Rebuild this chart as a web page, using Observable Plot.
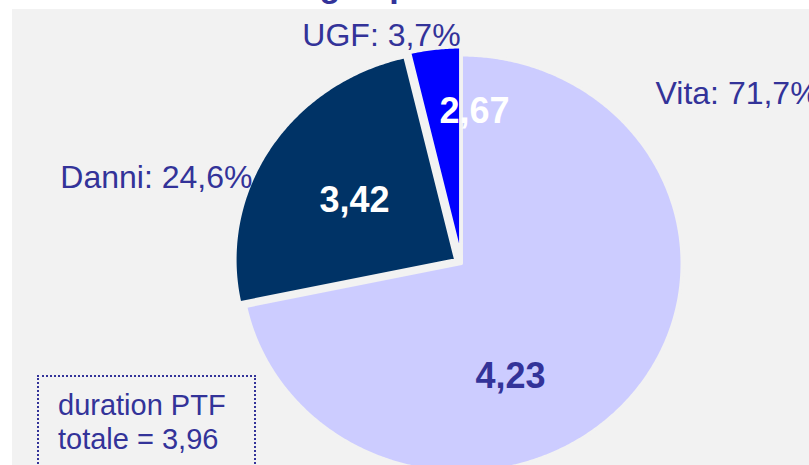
<!DOCTYPE html>
<html><head><meta charset="utf-8">
<script src="https://cdn.jsdelivr.net/npm/d3@7"></script>
<script src="https://cdn.jsdelivr.net/npm/@observablehq/plot@0.6"></script>
<style>
html,body{margin:0;padding:0;overflow:hidden;background:#fff;width:809px;height:465px;}
#wrap{position:relative;width:809px;height:465px;overflow:hidden;}
#title{position:absolute;left:-30px;top:-32px;font:bold 34px "Liberation Sans",Arial,sans-serif;line-height:34px;color:#333399;white-space:nowrap;}
#chart{position:absolute;left:12px;top:9px;}
#note{position:absolute;left:37px;top:375px;width:219px;height:120px;border:2px dotted #333399;box-sizing:border-box;padding:11px 0 0 19px;font:29px "Liberation Sans",Arial,sans-serif;line-height:34px;color:#333399;white-space:nowrap;}
</style></head>
<body>
<div id="wrap">
  <div id="title">Duration media: dettaglio per ramo</div>
  <div id="chart"></div>
  <div id="note"></div>
</div>
<script>
// ---- data ----
const segments = ["Vita", "Danni", "UGF"];
const shares = [71.7, 24.6, 3.7];          // % of portfolio
const durations = [4.23, 3.42, 2.67];      // duration per segment
const totalDuration = 3.96;

// ---- styles / layout ----
const sliceColors = ["#ccccff", "#003366", "#0000ff"];
const valueColors = ["#333399", "#ffffff", "#ffffff"];
const explodePx = [0, 7, 8];
const W = 797, H = 456;
const cx = 449, cy = 254;       // pie centre inside the svg (px)
const rx = 220.5, ry = 208.5;   // pie radii (px)
// label anchors in pie-radius units relative to the centre
const outerPos = [[0.880, 0.816, "start"], [-0.948, 0.413, "end"], [-0.363, 1.094, "middle"]];
const innerPos = [[0.222, -0.544], [-0.485, 0.300], [0.059, 0.727]];

const fmt = (v, d) => v.toFixed(d).replace(".", ",");
const font = "'Liberation Sans', Arial, sans-serif";

const total = d3.sum(shares);
let acc = 0;
const slices = segments.map((name, i) => {
  const a0 = acc / total * 2 * Math.PI;
  acc += shares[i];
  const a1 = acc / total * 2 * Math.PI;
  const mid = (a0 + a1) / 2;
  return {name, i, a0, a1, ox: explodePx[i] * Math.sin(mid) / rx, oy: explodePx[i] * Math.cos(mid) / ry};
});
function slicePoly(s) {
  const n = Math.max(2, Math.ceil((s.a1 - s.a0) / (Math.PI / 360)));
  const arc = d3.range(n + 1).map(k => {
    const a = s.a0 + (s.a1 - s.a0) * k / n;
    return {x: s.ox + Math.sin(a), y: s.oy + Math.cos(a)};
  });
  return [{x: s.ox, y: s.oy}, ...arc];
}

const outerLabels = segments.map((name, i) => ({
  text: `${name}: ${fmt(shares[i], 1)}%`, x: outerPos[i][0], y: outerPos[i][1], anchor: outerPos[i][2]
}));
const innerLabels = segments.map((name, i) => ({
  text: fmt(durations[i], 2), x: innerPos[i][0], y: innerPos[i][1], color: valueColors[i]
}));

const marks = slices.map(s => Plot.line(slicePoly(s), {
  x: "x", y: "y", fill: sliceColors[s.i], stroke: "#f2f2f2", strokeWidth: 3, curve: "linear-closed"
}));
["start", "end", "middle"].forEach(anchor => {
  marks.push(Plot.text(outerLabels.filter(d => d.anchor === anchor), {
    x: "x", y: "y", text: "text", textAnchor: anchor, fill: "#333399",
    fontSize: 32, fontFamily: font
  }));
});
marks.push(Plot.text(innerLabels, {
  x: "x", y: "y", text: "text", fill: "color", fontSize: 36, fontWeight: "bold", fontFamily: font
}));

const chart = Plot.plot({
  width: W, height: H,
  margin: 0,
  x: {type: "linear", domain: [-cx / rx, (W - cx) / rx], range: [0, W], axis: null},
  y: {type: "linear", domain: [-(H - cy) / ry, cy / ry], range: [H, 0], axis: null},
  color: {type: "identity"},
  style: {background: "#f2f2f2", overflow: "hidden"},
  marks
});
document.getElementById("chart").appendChild(chart);
document.getElementById("note").innerHTML = `duration PTF<br>totale = ${fmt(totalDuration, 2)}`;
</script>
</body></html>
